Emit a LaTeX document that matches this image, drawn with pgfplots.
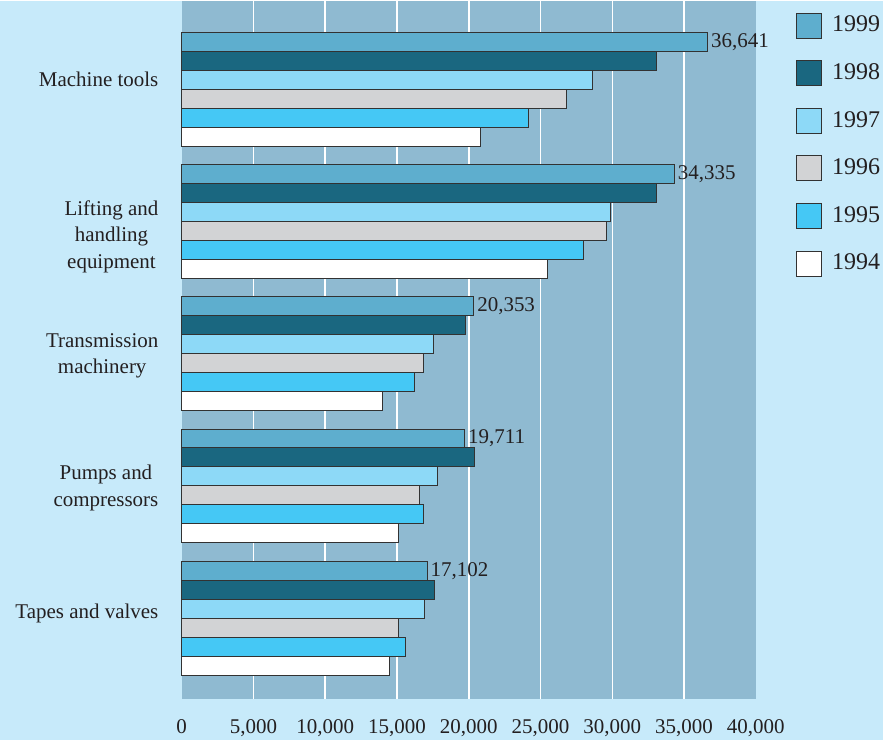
\documentclass[border=0pt]{standalone}
\usepackage{pgfplots}
\pgfplotsset{compat=1.18}
\usepackage{fontspec}
\setmainfont{Liberation Serif}
\definecolor{outerbg}{RGB}{199,234,250}
\definecolor{plotbg}{RGB}{143,186,209}
\definecolor{cA}{RGB}{94,174,206}
\definecolor{cB}{RGB}{26,103,128}
\definecolor{cC}{RGB}{141,217,247}
\definecolor{cD}{RGB}{210,211,213}
\definecolor{cE}{RGB}{69,200,245}
\definecolor{cF}{RGB}{255,255,255}
\definecolor{txt}{RGB}{35,31,32}
\definecolor{edge}{RGB}{50,50,50}
\newcommand{\lbl}[2]{\raisebox{#1}[\height][\depth]{\begin{tabular}{@{}c@{}}#2\end{tabular}}}
\begin{document}
\fontsize{10.5}{13.25}\selectfont
\begin{tikzpicture}
\fill[outerbg] (0,0) rectangle (442pt,370pt);
\begin{axis}[
  at={(91pt,20.5pt)}, anchor=south west,
  scale only axis, width=287.5pt, height=349.5pt,
  xbar, bar width=9.5pt,
  clip=false,
  axis background/.style={fill=plotbg},
  axis line style={draw=none},
  major tick length=0pt,
  xmin=0, xmax=40000, ymin=-0.608, ymax=4.668,
  xtick={5000,10000,...,35000},
  extra x ticks={0,40000},
  extra x tick style={grid=none},
  xmajorgrids,
  grid style={white, line width=0.75pt},
  scaled x ticks=false,
  /pgf/number format/.cd, 1000 sep={,}, assume math mode=true, /pgfplots/.cd,
  xticklabel style={text=txt, font=\fontsize{10.5}{12}\selectfont, yshift=-7pt},
  ytick={0,1,2,3,4},
  yticklabels={\lbl{2.5pt}{Tapes and valves}, \lbl{-1pt}{Pumps and\\compressors}, \lbl{-0.75pt}{Transmission\\machinery}, \lbl{-7.5pt}{Lifting and\\handling\\equipment}, \lbl{4pt}{Machine tools}},
  yticklabel style={text=txt, font=\fontsize{10.5}{13.25}\selectfont, xshift=-8pt},
  legend image code/.code={\draw[#1] (0pt,-6.25pt) rectangle (12.5pt,6.25pt); \path (15.5pt,0pt);},
  legend style={at={(1,1)}, anchor=north west, xshift=20pt, yshift=-5.5pt,
    draw=none, fill=none, inner sep=0pt, row sep=10.3pt,
    font=\fontsize{12}{14}\selectfont, text=txt, cells={anchor=west}},
  every axis plot/.append style={draw=edge, line width=0.5pt},
]
\addplot[fill=cA, bar shift=23.75pt, nodes near coords,
  nodes near coords style={anchor=west, inner sep=1.5pt, text=txt, font=\fontsize{10.5}{12}\selectfont}]
  coordinates {(17102,0) (19711,1) (20353,2) (34335,3) (36641,4)};
\addplot[fill=cB, bar shift=14.25pt] coordinates {(17640,0) (20400,1) (19800,2) (33100,3) (33100,4)};
\addplot[fill=cC, bar shift=4.75pt] coordinates {(16940,0) (17790,1) (17550,2) (29850,3) (28630,4)};
\addplot[fill=cD, bar shift=-4.75pt] coordinates {(15100,0) (16600,1) (16840,2) (29600,3) (26820,4)};
\addplot[fill=cE, bar shift=-14.25pt] coordinates {(15560,0) (16880,1) (16200,2) (28000,3) (24180,4)};
\addplot[fill=cF, bar shift=-23.75pt] coordinates {(14450,0) (15080,1) (13990,2) (25500,3) (20830,4)};
\legend{1999,1998,1997,1996,1995,1994}
\end{axis}
\end{tikzpicture}
\end{document}
